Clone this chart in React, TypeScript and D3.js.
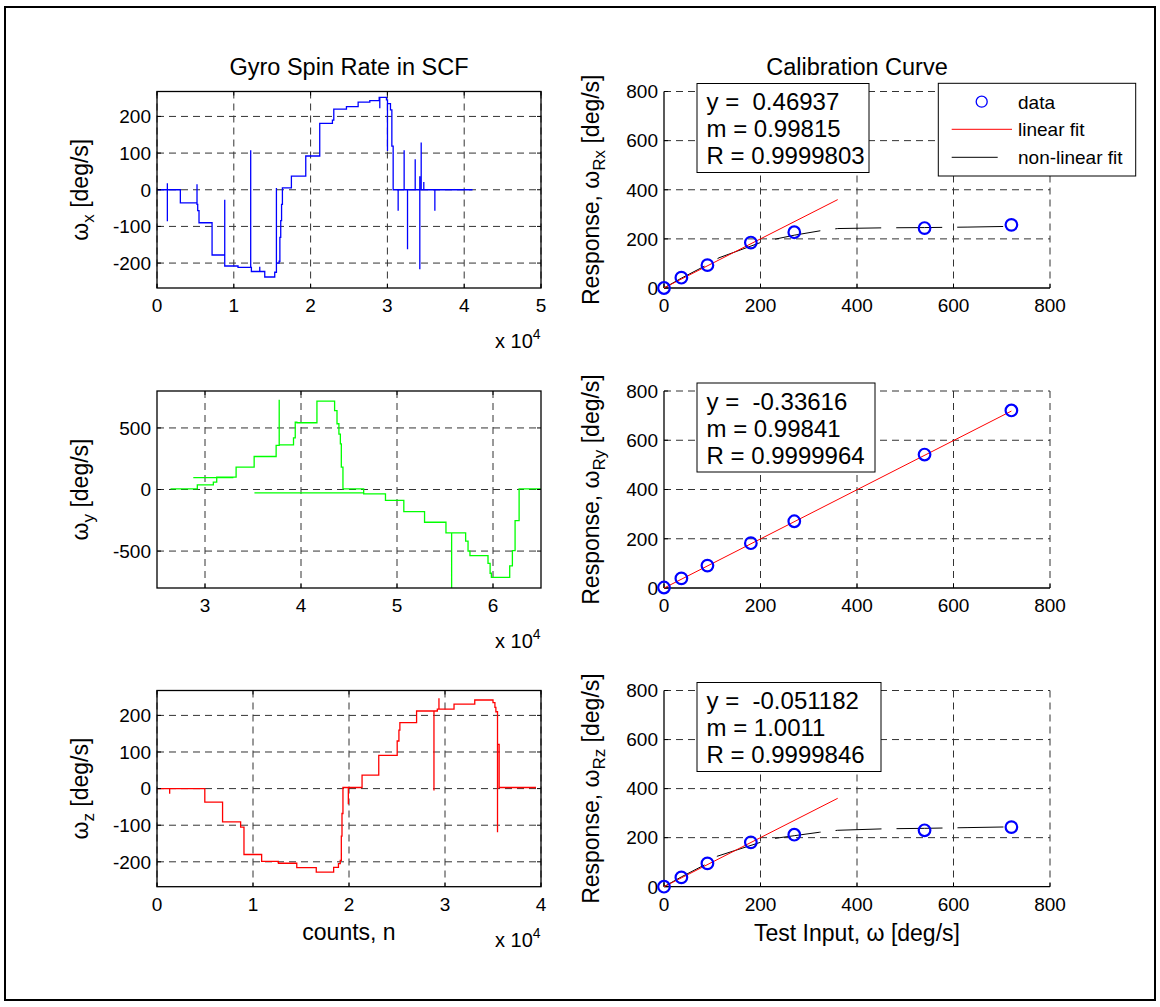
import React from "react";
import * as d3 from "d3";

// ---------------- DATA ----------------
// Gyro spin rate, x axis (counts, deg/s), step-after breakpoints
const gyroXCounts = [0, 1350, 1350, 1350, 3040, 5210, 5210, 5300, 5470, 7170, 8820, 8820, 10550, 12200, 12200, 12290, 13380, 13380, 14030, 15330, 15550, 15550, 15900, 16000, 16110, 16220, 16330, 17500, 19370, 21190, 22840, 23020, 24670, 26190, 27710, 28930, 29010, 29010, 29880, 30010, 30010, 30400, 30580, 30750, 31400, 31400, 32180, 32180, 32620, 32620, 33620, 33620, 34220, 34220, 34220, 34400, 34400, 34740, 34740, 36180, 36180, 41080];
const gyroXRate = [0, 18, -86, 0, -36, 15, -40, -57, -90, -178, -27, -208, -212, 108, -212, -223, -210, -223, -238, -225, 5, -200, -195, -130, -84, -40, 5, 37, 92, 181, 190, 220, 227, 239, 243, 252, 222, 252, 245, 106, 235, 218, 119, 0, -57, 0, 108, 0, -162, 0, 83, 0, -217, 37, 0, 129, 0, 21, 0, -57, 0, 0];

const gyroYCounts = [26410, 29200, 30870, 31220, 33240, 35120, 37410, 37730, 37730, 39220, 39400, 39570, 41660, 43500, 43750, 43950, 44100, 44200, 44370, 46530, 48800, 50710, 52870, 55100, 55690, 55690, 57150, 57400, 57600, 59480, 59700, 59830, 61740, 62020, 62300, 62720, 65000];
const gyroYRate = [5, 38, 60, 100, 182, 268, 358, 729, 363, 420, 547, 542, 718, 640, 534, 450, 371, 182, 5, -35, -89, -179, -266, -352, -820, -352, -420, -500, -537, -600, -680, -713, -620, -496, -252, 5, 5];
const gyroYStrayFrom = [28780, 35150];
const gyroYStrayTo = [32960, 46530];
const gyroYStrayRate = [97, -27];

const gyroZCounts = [0, 1320, 1320, 4980, 6830, 8710, 9060, 10900, 12650, 14560, 16590, 18400, 18900, 19090, 19200, 19270, 19370, 19930, 19930, 21360, 23100, 25020, 25200, 25300, 27040, 28850, 28850, 29200, 29370, 29370, 30940, 33100, 35000, 35200, 35300, 35470, 35470, 35640, 39480];
const gyroZRate = [0, -14, 0, -37, -91, -105, -180, -199, -204, -216, -228, -215, -205, -196, -130, -68, 3, -43, 3, 37, 91, 130, 160, 180, 212, -5, 212, 217, 247, 217, 231, 242, 235, 222, 210, -119, 121, 3, 3];

// Calibration
const testInput = [0, 36, 90, 180, 270, 540, 720];
const responseX = [0, 42, 93, 185, 227, 244, 257];
const responseY = [2, 39, 91, 182, 271, 542, 721];
const responseZ = [0, 38, 95, 181, 212, 230, 243];

const fitIntercept = [0.46937, -0.33616, -0.051182];
const fitSlope = [0.99815, 0.99841, 1.0011];
const fitR = ["0.9999803", "0.9999964", "0.9999846"];
const fitInterceptText = ["0.46937", "-0.33616", "-0.051182"];
const fitSlopeText = ["0.99815", "0.99841", "1.0011"];
const fitRange = [360, 720, 360];

const nonlinXInput = [0, 36, 90, 114, 200, 233, 270, 327, 360, 457, 540, 630, 720];
const nonlinXResp = [0, 40, 95, 123, 185, 200, 215, 234, 242, 245, 246, 248, 251];
const nonlinZInput = [0, 36, 90, 110, 200, 226, 270, 322, 360, 456, 540, 630, 720];
const nonlinZResp = [0, 40, 95, 124, 181, 196, 208, 222, 230, 236, 238, 241, 244];

const leftXTicks1 = [0, 10000, 20000, 30000, 40000, 50000];
const leftXTicks2 = [30000, 40000, 50000, 60000];
const leftXTicks3 = [0, 10000, 20000, 30000, 40000];
const leftYTicks13 = [-200, -100, 0, 100, 200];
const leftYTicks2 = [-500, 0, 500];
const calTicks = [0, 200, 400, 600, 800];

const legendLabels = ["data", "linear fit", "non-linear fit"];

// ---------------- LAYOUT ----------------
const FONT = "'Liberation Sans', Arial, Helvetica, sans-serif";
const TICK_FS = 19;
const LABEL_FS = 23;
const TITLE_FS = 23.5;
const NOTE_FS = 24;
const LEG_FS = 19;
const GRID_DASH = "7,5";

const L0 = 157, L1 = 541, R0 = 664, R1 = 1050;
const rows = [
  { top: 91.5, bottom: 288 },
  { top: 391, bottom: 588 },
  { top: 690.5, bottom: 886.7 },
];
const noteWidths = [172, 178, 184];

type Pt = [number, number];

function zip(a: number[], b: number[]): Pt[] {
  return a.map((v, i) => [v, b[i]] as Pt);
}

function LeftPlot(props: {
  idx: number;
  xDomain: [number, number];
  xTicks: number[];
  yDomain: [number, number];
  yTicks: number[];
  xs: number[];
  ys: number[];
  color: string;
  sub: string;
  stray?: { from: number[]; to: number[]; rate: number[] };
}) {
  const { idx, xDomain, xTicks, yDomain, yTicks, xs, ys, color, sub, stray } = props;
  const row = rows[idx];
  const x = d3.scaleLinear().domain(xDomain).range([L0, L1]);
  const y = d3.scaleLinear().domain(yDomain).range([row.bottom, row.top]);
  const line = d3
    .line<Pt>()
    .x((d) => x(d[0]))
    .y((d) => y(d[1]))
    .curve(d3.curveStepAfter);
  const path = line(zip(xs, ys)) || "";
  const clipId = `clipL${idx}`;
  const cy = (row.top + row.bottom) / 2;
  return (
    <g>
      <defs>
        <clipPath id={clipId}>
          <rect x={L0} y={row.top} width={L1 - L0} height={row.bottom - row.top} />
        </clipPath>
      </defs>
      {xTicks.map((t) => (
        <line key={"gx" + t} x1={x(t)} x2={x(t)} y1={row.top} y2={row.bottom} stroke="#333" strokeWidth={1} strokeDasharray={GRID_DASH} />
      ))}
      {yTicks.map((t) => (
        <line key={"gy" + t} x1={L0} x2={L1} y1={y(t)} y2={y(t)} stroke="#333" strokeWidth={1} strokeDasharray={GRID_DASH} />
      ))}
      <g clipPath={`url(#${clipId})`}>
        <path d={path} fill="none" stroke={color} strokeWidth={1.3} />
        {stray &&
          stray.from.map((f, i) => (
            <line key={"s" + i} x1={x(f)} x2={x(stray.to[i])} y1={y(stray.rate[i])} y2={y(stray.rate[i])} stroke={color} strokeWidth={1.3} />
          ))}
      </g>
      <rect x={L0} y={row.top} width={L1 - L0} height={row.bottom - row.top} fill="none" stroke="#000" strokeWidth={1.3} />
      {xTicks.map((t) => (
        <g key={"tx" + t}>
          <line x1={x(t)} x2={x(t)} y1={row.bottom} y2={row.bottom - 4} stroke="#000" />
          <line x1={x(t)} x2={x(t)} y1={row.top} y2={row.top + 4} stroke="#000" />
          <text x={x(t)} y={row.bottom + 24} fontSize={TICK_FS} textAnchor="middle" fontFamily={FONT}>
            {String(t / 10000)}
          </text>
        </g>
      ))}
      {yTicks.map((t) => (
        <g key={"ty" + t}>
          <line x1={L0} x2={L0 + 4} y1={y(t)} y2={y(t)} stroke="#000" />
          <line x1={L1} x2={L1 - 4} y1={y(t)} y2={y(t)} stroke="#000" />
          <text x={L0 - 6} y={y(t) + 6.8} fontSize={TICK_FS} textAnchor="end" fontFamily={FONT}>
            {String(t)}
          </text>
        </g>
      ))}
      <text x={495} y={row.bottom + 60} fontSize={20} fontFamily={FONT}>
        x 10<tspan dy={-9} fontSize={14}>4</tspan>
      </text>
      <text transform={`translate(88, ${cy}) rotate(-90)`} fontSize={LABEL_FS} textAnchor="middle" fontFamily={FONT}>
        ω<tspan dy={6} fontSize={17}>{sub}</tspan>
        <tspan dy={-6}> [deg/s]</tspan>
      </text>
    </g>
  );
}

function CalPlot(props: { idx: number; resp: number[]; sub: string; nonlin?: { xs: number[]; ys: number[] }; legend?: boolean }) {
  const { idx, resp, sub, nonlin, legend } = props;
  const row = rows[idx];
  const x = d3.scaleLinear().domain([0, 800]).range([R0, R1]);
  const y = d3.scaleLinear().domain([0, 800]).range([row.bottom, row.top]);
  const lin = d3
    .line<Pt>()
    .x((d) => x(d[0]))
    .y((d) => y(d[1]));
  const fitPts: Pt[] = [0, fitRange[idx]].map((v) => [v, fitSlope[idx] * v + fitIntercept[idx]] as Pt);
  const cy = (row.top + row.bottom) / 2;
  const bx = R0 + 33;
  const by = row.top - 8;
  return (
    <g>
      {calTicks.slice(1).map((t) => (
        <line key={"gx" + t} x1={x(t)} x2={x(t)} y1={row.top} y2={row.bottom} stroke="#333" strokeWidth={1} strokeDasharray={GRID_DASH} />
      ))}
      {calTicks.slice(1).map((t) => (
        <line key={"gy" + t} x1={R0} x2={R1} y1={y(t)} y2={y(t)} stroke="#333" strokeWidth={1} strokeDasharray={GRID_DASH} />
      ))}
      <line x1={R0} x2={R0} y1={row.top} y2={row.bottom} stroke="#000" strokeWidth={1.3} />
      <line x1={R0} x2={R1} y1={row.bottom} y2={row.bottom} stroke="#000" strokeWidth={1.3} />
      {calTicks.map((t) => (
        <g key={"t" + t}>
          <line x1={x(t)} x2={x(t)} y1={row.bottom} y2={row.bottom - 4} stroke="#000" />
          <line x1={R0} x2={R0 + 4} y1={y(t)} y2={y(t)} stroke="#000" />
          <text x={x(t)} y={row.bottom + 24} fontSize={TICK_FS} textAnchor="middle" fontFamily={FONT}>
            {String(t)}
          </text>
          <text x={R0 - 6} y={y(t) + 6.8} fontSize={TICK_FS} textAnchor="end" fontFamily={FONT}>
            {String(t)}
          </text>
        </g>
      ))}
      {nonlin && (
        <path d={lin(zip(nonlin.xs, nonlin.ys)) || ""} fill="none" stroke="#000" strokeWidth={1} strokeDasharray="46,15" />
      )}
      <path d={lin(fitPts) || ""} fill="none" stroke="#ff0000" strokeWidth={1} />
      {testInput.map((v, i) => (
        <circle key={"c" + i} cx={x(v)} cy={y(resp[i])} r={5.8} fill="none" stroke="#0000ff" strokeWidth={2.2} />
      ))}
      <text transform={`translate(599, ${cy}) rotate(-90)`} fontSize={LABEL_FS} textAnchor="middle" fontFamily={FONT}>
        Response, ω<tspan dy={6} fontSize={17}>{sub}</tspan>
        <tspan dy={-6}> [deg/s]</tspan>
      </text>
      <rect x={bx} y={by} width={noteWidths[idx]} height={89} fill="#fff" stroke="#000" strokeWidth={1} />
      <text x={bx + 9.5} y={by + 26.6} fontSize={NOTE_FS} fontFamily={FONT} xmlSpace="preserve" style={{ whiteSpace: "pre" }}>
        {"y =  " + fitInterceptText[idx]}
      </text>
      <text x={bx + 9.5} y={by + 53.6} fontSize={NOTE_FS} fontFamily={FONT}>
        {"m = " + fitSlopeText[idx]}
      </text>
      <text x={bx + 9.5} y={by + 80.6} fontSize={NOTE_FS} fontFamily={FONT}>
        {"R = " + fitR[idx]}
      </text>
      {legend && (
        <g>
          <rect x={938.3} y={83.3} width={197.4} height={92.7} fill="#fff" stroke="#000" strokeWidth={1} />
          <circle cx={981.7} cy={101.7} r={5.5} fill="none" stroke="#0000ff" strokeWidth={1.3} />
          <line x1={951.7} x2={1012} y1={129.3} y2={129.3} stroke="#ff0000" strokeWidth={1} />
          <line x1={951.7} x2={1012} y1={157.3} y2={157.3} stroke="#000" strokeWidth={1} strokeDasharray="46,15" />
          {legendLabels.map((lab, i) => (
            <text key={lab} x={1018} y={101.7 + i * 27.8 + 6.8} fontSize={LEG_FS} fontFamily={FONT}>
              {lab}
            </text>
          ))}
        </g>
      )}
    </g>
  );
}

export default function App() {
  return (
    <svg width={1160} height={1007} style={{ position: "absolute", left: 0, top: 0, background: "#fff" }} fontFamily={FONT}>
      <rect x={0} y={0} width={1160} height={1007} fill="#fff" />
      <rect x={5} y={7} width={1150} height={993} fill="none" stroke="#000" strokeWidth={2} />
      <text x={(L0 + L1) / 2} y={75} fontSize={TITLE_FS} textAnchor="middle" fontFamily={FONT}>
        Gyro Spin Rate in SCF
      </text>
      <text x={(R0 + R1) / 2} y={75} fontSize={TITLE_FS} textAnchor="middle" fontFamily={FONT}>
        Calibration Curve
      </text>
      <LeftPlot idx={0} xDomain={[0, 50000]} xTicks={leftXTicks1} yDomain={[-268, 268]} yTicks={leftYTicks13} xs={gyroXCounts} ys={gyroXRate} color="#0000ff" sub="x" />
      <LeftPlot
        idx={1}
        xDomain={[25000, 65000]}
        xTicks={leftXTicks2}
        yDomain={[-800, 800]}
        yTicks={leftYTicks2}
        xs={gyroYCounts}
        ys={gyroYRate}
        color="#00ff00"
        sub="y"
        stray={{ from: gyroYStrayFrom, to: gyroYStrayTo, rate: gyroYStrayRate }}
      />
      <LeftPlot idx={2} xDomain={[0, 40000]} xTicks={leftXTicks3} yDomain={[-268, 268]} yTicks={leftYTicks13} xs={gyroZCounts} ys={gyroZRate} color="#ff0000" sub="z" />
      <CalPlot idx={0} resp={responseX} sub="Rx" nonlin={{ xs: nonlinXInput, ys: nonlinXResp }} legend />
      <CalPlot idx={1} resp={responseY} sub="Ry" />
      <CalPlot idx={2} resp={responseZ} sub="Rz" nonlin={{ xs: nonlinZInput, ys: nonlinZResp }} />
      <text x={(L0 + L1) / 2} y={940} fontSize={LABEL_FS} textAnchor="middle" fontFamily={FONT}>
        counts, n
      </text>
      <text x={(R0 + R1) / 2} y={941} fontSize={LABEL_FS} textAnchor="middle" fontFamily={FONT}>
        Test Input, ω [deg/s]
      </text>
    </svg>
  );
}
